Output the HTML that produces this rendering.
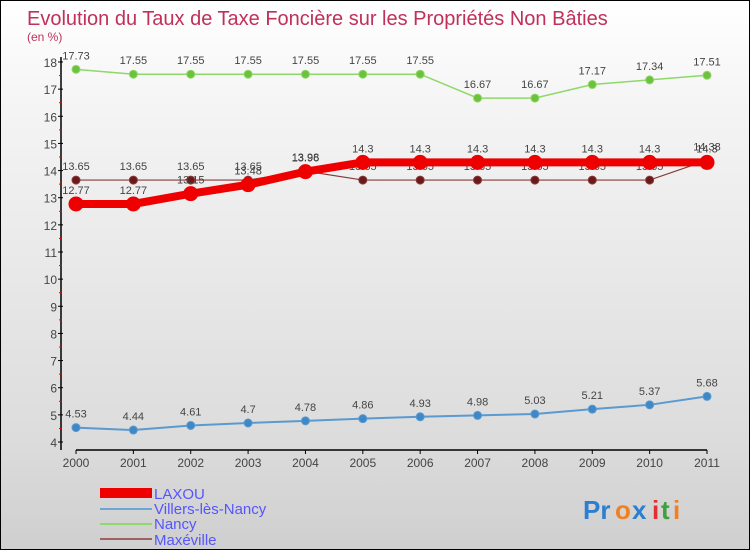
<!DOCTYPE html>
<html><head><meta charset="utf-8"><style>
body{margin:0;width:750px;height:550px;overflow:hidden;font-family:"Liberation Sans",sans-serif}
#wrap{position:relative;width:748px;height:548px;border:1px solid #000;background:linear-gradient(#fff,#f4f4f4 20%,#dcdcdc 80%,#cfcfcf)}
</style></head><body>
<div id="wrap">
<svg id="chart" width="748" height="548" xmlns="http://www.w3.org/2000/svg">
<text x="26" y="24" font-size="20" fill="#c0305a">Evolution du Taux de Taxe Foncière sur les Propriétés Non Bâties</text>
<text x="26" y="40" font-size="12" fill="#c0305a">(en %)</text>
<g id="axes"></g><g id="series"></g>
<g font-size="15" fill="#5555ff">
<rect x="99" y="487" width="52" height="10" fill="#e00"/>
<text x="153" y="498">LAXOU</text>
<rect x="99" y="507" width="52" height="2" fill="#6aa6d6"/>
<text x="153" y="513">Villers-lès-Nancy</text>
<rect x="99" y="522" width="52" height="2" fill="#8fd86a"/>
<text x="153" y="528">Nancy</text>
<rect x="99" y="537" width="52" height="2" fill="#a06060"/>
<text x="153" y="544">Maxéville</text>
</g>
<g font-size="26" font-weight="bold">
<text x="582" y="518" fill="#2a7fd0">Pr</text><text x="614" y="518" fill="#f08020">o</text><text x="631" y="518" fill="#2a7fd0">x</text><text x="651" y="518" fill="#e03030">i</text><text x="660" y="518" fill="#40a040">t</text><text x="672" y="518" fill="#f08020">i</text>
</g>
</svg></div>
<script>
const years=["2000","2001","2002","2003","2004","2005","2006","2007","2008","2009","2010","2011"];
const laxou=[12.77,12.77,13.15,13.48,13.96,14.3,14.3,14.3,14.3,14.3,14.3,14.3];
const villers=[4.53,4.44,4.61,4.7,4.78,4.86,4.93,4.98,5.03,5.21,5.37,5.68];
const nancy=[17.73,17.55,17.55,17.55,17.55,17.55,17.55,16.67,16.67,17.17,17.34,17.51];
const maxeville=[13.65,13.65,13.65,13.65,13.98,13.65,13.65,13.65,13.65,13.65,13.65,14.38];
const yTicks=[4,5,6,7,8,9,10,11,12,13,14,15,16,17,18];
const NS="http://www.w3.org/2000/svg";
const xs=i=>75+i*(631/11);
const ys=v=>441-(v-4)*(380/14);
function mk(t,a,p){const e=document.createElementNS(NS,t);for(const k in a)e.setAttribute(k,a[k]);p.appendChild(e);return e;}
const ax=document.getElementById('axes');
let l=mk('line',{x1:60,y1:56,x2:60,y2:449,stroke:'#000','stroke-width':1.5},ax);

l=mk('line',{x1:75,y1:449,x2:706,y2:449,stroke:'#000','stroke-width':1.5},ax);

yTicks.forEach(v=>{mk('line',{x1:57,y1:ys(v),x2:62,y2:ys(v),stroke:'#000'},ax);
 if(v<18)mk('line',{x1:58,y1:ys(v+0.5),x2:61,y2:ys(v+0.5),stroke:'#e00'},ax);
 const t=mk('text',{x:56,y:ys(v)+5,'font-size':12,fill:'#444','text-anchor':'end'},ax);t.textContent=v;
 });
years.forEach((y,i)=>{mk('line',{x1:xs(i),y1:449,x2:xs(i),y2:453,stroke:'#000'},ax);
 const t=mk('text',{x:xs(i),y:466,'font-size':12,fill:'#444','text-anchor':'middle'},ax);t.textContent=y;
 });
const sg=document.getElementById('series');
function draw(data,name,color,w,r,dot){
 const g=mk('g',{},sg);
 const p=mk('polyline',{points:data.map((v,i)=>xs(i)+','+ys(v)).join(' '),fill:'none',stroke:color,'stroke-width':w},g);
 
 data.forEach((v,i)=>{const c=mk('circle',{cx:xs(i),cy:ys(v),r:r,fill:dot,stroke:color,'stroke-width':1},g);
  
  const t=mk('text',{x:xs(i),y:ys(v)-10,'font-size':11,fill:'#444','text-anchor':'middle'},g);t.textContent=v;
  });
}
draw(villers,'villers','#5a9ad0',2,4,'#3f88c8');
draw(nancy,'nancy','#8fd86a',1.5,4,'#6cc23c');
draw(maxeville,'maxeville','#8a3a3a',1.2,4,'#6a1a1a');
draw(laxou,'laxou','#e00',8,7,'#e00');
</script>
</body></html>
